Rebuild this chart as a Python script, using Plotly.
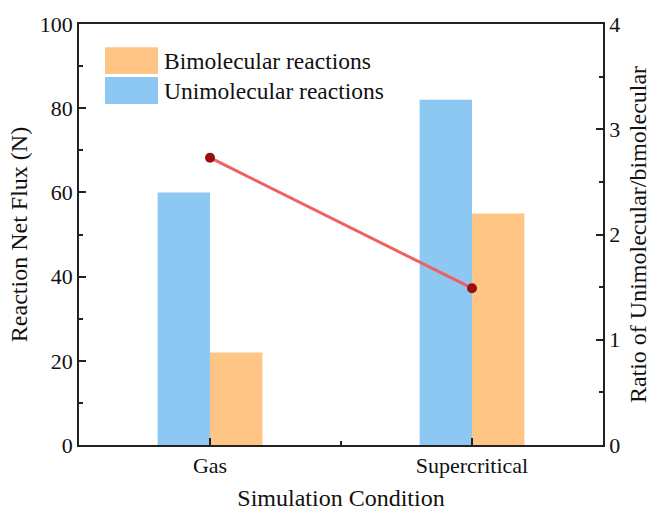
import plotly.graph_objects as go

# Data
conditions = ["Gas", "Supercritical"]
x_pos = [0, 1]
unimolecular = [60, 82]
bimolecular = [22, 55]
ratio = [2.73, 1.49]

FONT = "Liberation Serif, Times New Roman, serif"
BLUE = "#8DC8F2"
ORANGE = "#FFC584"
LINE_RED = "#F06060"
MARK_RED = "#990F0F"

fig = go.Figure()

fig.add_trace(go.Bar(
    x=x_pos, y=unimolecular, name="Unimolecular reactions",
    width=0.2, offset=-0.2, marker=dict(color=BLUE, line=dict(width=0)),
    showlegend=False,
))
fig.add_trace(go.Bar(
    x=x_pos, y=bimolecular, name="Bimolecular reactions",
    width=0.2, offset=0.0, marker=dict(color=ORANGE, line=dict(width=0)),
    showlegend=False,
))
fig.add_trace(go.Scatter(
    x=x_pos, y=ratio, yaxis="y2", mode="lines+markers",
    line=dict(color=LINE_RED, width=3),
    marker=dict(color=MARK_RED, size=10),
    showlegend=False,
))

axis_common = dict(
    showline=True, linecolor="#222", linewidth=1.5,
    ticks="inside", tickcolor="#222", tickwidth=1.5, ticklen=7,
    showgrid=False, zeroline=False, automargin=False,
    tickfont=dict(family=FONT, size=22, color="#111"),
)

fig.update_layout(
    width=651, height=512,
    margin=dict(l=79, r=48, t=24, b=67),
    plot_bgcolor="white", paper_bgcolor="white",
    barmode="overlay",
    xaxis=dict(
        **axis_common, range=[-0.5, 1.5], mirror=True,
        tickmode="array", tickvals=x_pos, ticktext=conditions,
        minor=dict(tickmode="array", tickvals=[0.5], ticks="inside",
                   ticklen=4, tickcolor="#222", tickwidth=1.5),
        title=dict(text="Simulation Condition",
                   font=dict(family=FONT, size=24, color="#111"), standoff=12),
    ),
    yaxis=dict(
        **axis_common, range=[0, 100], dtick=20,
        minor=dict(dtick=10, ticks="inside", ticklen=4,
                   tickcolor="#222", tickwidth=1.5),
        title=dict(text="Reaction Net Flux (N)",
                   font=dict(family=FONT, size=24, color="#111"), standoff=5),
    ),
    yaxis2=dict(
        **axis_common, range=[0, 4], dtick=1, overlaying="y", side="right",
        minor=dict(dtick=0.5, ticks="inside", ticklen=4,
                   tickcolor="#222", tickwidth=1.5),
        title=dict(text="Ratio of Unimolecular/bimolecular",
                   font=dict(family=FONT, size=24, color="#111"), standoff=12),
    ),
)

# Legend drawn as large swatches with text labels
legend_items = [("Bimolecular reactions", ORANGE, 0.881, 0.945),
                ("Unimolecular reactions", BLUE, 0.810, 0.874)]
for label, color, y0, y1 in legend_items:
    fig.add_shape(type="rect", xref="paper", yref="paper",
                  x0=0.0496, x1=0.1508, y0=y0, y1=y1,
                  fillcolor=color, line=dict(width=0))
    fig.add_annotation(xref="paper", yref="paper", x=0.158, y=(y0 + y1) / 2,
                       text=label, showarrow=False, xanchor="left", yanchor="middle",
                       font=dict(family=FONT, size=23.5, color="#111"))

fig.write_html("out.html")
